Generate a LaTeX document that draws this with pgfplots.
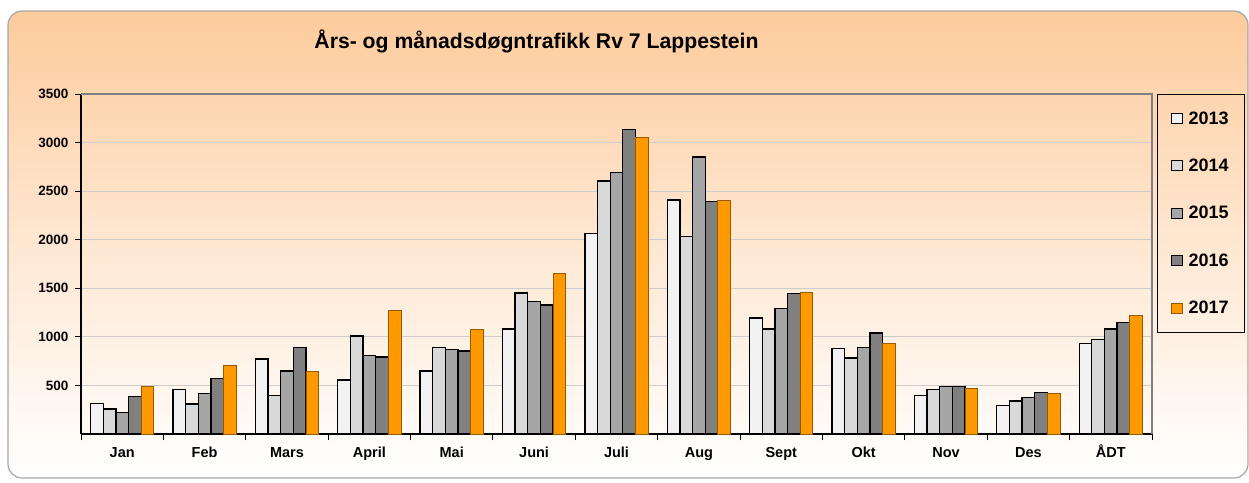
\documentclass[border=0pt]{standalone}
\usepackage{pgfplots}
\pgfplotsset{compat=1.18}
\usepackage{fontspec}
\setmainfont{Liberation Sans}
\definecolor{c13}{HTML}{F2F2F2}
\definecolor{c14}{HTML}{D9D9D9}
\definecolor{c15}{HTML}{A6A6A6}
\definecolor{c16}{HTML}{808080}
\definecolor{c17}{HTML}{FF9900}
\definecolor{bgtop}{RGB}{253,203,156}
\definecolor{obord}{RGB}{150,90,0}
\begin{document}
\begin{tikzpicture}[x=1pt,y=1pt]
\useasboundingbox (0,0) rectangle (1249,-482);
\shade[top color=bgtop, bottom color=white, middle color=bgtop!45!white, draw=gray!70, line width=1.2pt, rounded corners=14pt] (8,-11) rectangle (1248,-478);
\node[font=\fontsize{21.2}{24}\selectfont\bfseries] at (536.5,-41) {Års- og månadsdøgntrafikk Rv 7 Lappestein};
\begin{axis}[
  at={(81pt,-434pt)}, anchor=south west,
  scale only axis, width=1071pt, height=340pt,
  ybar=0pt, bar width=12.66pt,
  xmin=-0.5, xmax=12.5, ymin=0, ymax=3500,
  axis lines*=left,
  axis line style={black, line width=1.2pt},
  xtick={-0.5,0.5,...,12.5}, x tick label as interval,
  xticklabels={Jan,Feb,Mars,April,Mai,Juni,Juli,Aug,Sept,Okt,Nov,Des,ÅDT},
  ytick={500,1000,...,3500},
  yticklabels={500,1000,1500,2000,2500,3000,3500},
  tick align=outside, major tick length=6pt,
  tick style={black, line width=0.9pt},
  ymajorgrids, grid style={draw=gray!40, line width=0.9pt},
  x tick label style={font=\fontsize{14.5}{16}\selectfont\bfseries, text height=13pt, text depth=3pt, yshift=-1pt},
  y tick label style={font=\fontsize{13.5}{16}\selectfont\bfseries, xshift=-3pt},
  legend image code/.code={\draw[#1, line width=0.9pt] (0pt,-5pt) rectangle (11pt,5pt); \path (14pt,0pt);},
  legend style={at={(1.00467,1)}, anchor=north west, draw=black, fill=none, line width=0.9pt,
    font=\fontsize{18}{20}\selectfont\bfseries, row sep=29.3pt, inner xsep=14pt, inner ysep=15pt,
    cells={anchor=west}},
  after end axis/.code={\draw[gray, line width=1.2pt] (rel axis cs:0,1) -- (rel axis cs:1,1) -- (rel axis cs:1,0);},
]
\addplot[fill=c13, draw=black, line width=1.3pt] coordinates {(0,311) (1,458) (2,773) (3,557) (4,650) (5,1081) (6,2062) (7,2408) (8,1194) (9,882) (10,400) (11,291) (12,930)};
\addplot[fill=c14, draw=black, line width=1.3pt] coordinates {(0,257) (1,308) (2,400) (3,1009) (4,893) (5,1453) (6,2606) (7,2035) (8,1081) (9,783) (10,455) (11,339) (12,971)};
\addplot[fill=c15, draw=black, line width=1.3pt] coordinates {(0,219) (1,417) (2,650) (3,811) (4,872) (5,1361) (6,2692) (7,2852) (8,1289) (9,893) (10,489) (11,373) (12,1081)};
\addplot[fill=c16, draw=black, line width=1.3pt] coordinates {(0,383) (1,568) (2,893) (3,793) (4,855) (5,1327) (6,3133) (7,2391) (8,1443) (9,1040) (10,489) (11,424) (12,1146)};
\addplot[fill=c17, draw=obord, line width=0.9pt] coordinates {(0,492) (1,705) (2,643) (3,1269) (4,1077) (5,1655) (6,3057) (7,2404) (8,1457) (9,930) (10,469) (11,421) (12,1224)};
\legend{2013,2014,2015,2016,2017}
\end{axis}
\end{tikzpicture}
\end{document}
